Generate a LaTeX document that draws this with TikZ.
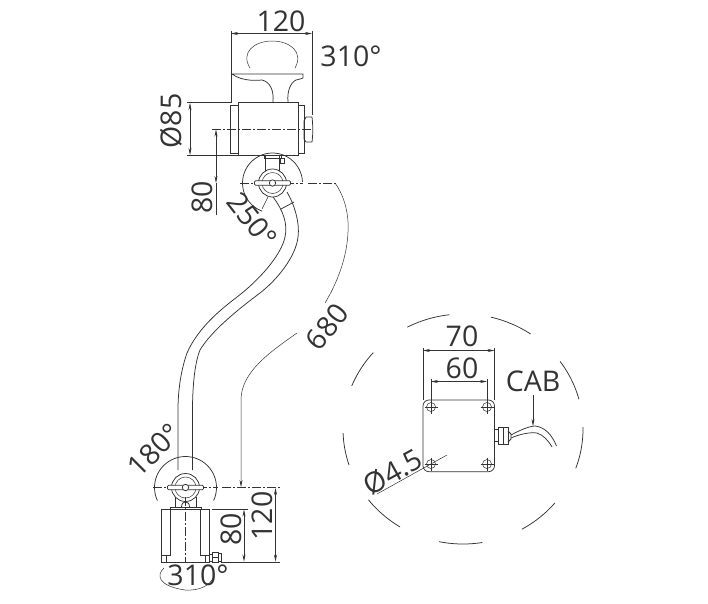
\documentclass[tikz,border=0pt]{standalone}
\usepackage{fontspec}
\setmainfont{Open Sans}
\usetikzlibrary{arrows.meta}
\definecolor{ink}{HTML}{333333}
\tikzset{
 x=1pt,y=-1pt,
 part/.style={draw=ink,line width=0.75pt},
 thin part/.style={draw=ink,line width=0.5pt},
 dim/.style={draw=ink,line width=0.5pt},
 dimboth/.style={dim,{Stealth[length=7pt,width=3pt]}-{Stealth[length=7pt,width=3pt]}},
 dimend/.style={dim,-{Stealth[length=7pt,width=3pt]}},
 centre/.style={draw=ink,line width=0.5pt,dash pattern=on 9pt off 2pt on 2pt off 2pt},
 lab/.style={text=ink,font=\fontsize{28.5}{28.5}\selectfont,inner sep=0pt},
}
\newcommand{\hubdraw}[2]{%
 \draw[part,fill=white] (#1,#2) circle[radius=14];
 \draw[thin part] (#1,#2) circle[radius=10.5];
 \draw[part,fill=white,rounded corners=1pt] ({#1-18},{#2-2.2}) rectangle ({#1+18},{#2+2.2});
 \draw[part,fill=white] (#1,#2) circle[radius=3.2];
}
\begin{document}
\begin{tikzpicture}
\useasboundingbox (0,0) rectangle (708,603);
\fill[white] (0,0) rectangle (708,603);
% --- top unit
\draw[part] (273,102) .. controls (274,90) and (270,82) .. (262,80) .. controls (252,81) and (240,80) .. (232,74) -- (303,74) -- (303,78) .. controls (302,79) and (299,79) .. (296,80) .. controls (290,83) and (287,92) .. (288,102);
\draw[part] (230,105.5) rectangle (238,153.5);
\draw[part] (238,102.5) rectangle (298,155);
\draw[part] (298,105.5) rectangle (304,153.5);
\draw[part] (304,121) -- (306,117) -- (312,117) .. controls (313,125) and (313,135) .. (312,142) -- (306,142) -- (304,139) -- cycle;
\draw[centre] (212,129) -- (311,129);
% rotation mark top
\draw[thin part] (250,68) .. controls (240,52) and (255,41) .. (272,41) .. controls (290,41) and (304,52) .. (295,68);
% dims top
\draw[dim] (231,31) -- (231,102);
\draw[dim] (312,31) -- (312,115);
\draw[dimboth] (231,33.5) -- (312,33.5);
\node[lab] (t120) at (281,21) {120};
\node[lab] (t310a) at (351,56) {310°};
\draw[dim] (187,102.5) -- (232,102.5);
\draw[dim] (187,155.5) -- (238,155.5);
\draw[dimboth] (190,103) -- (190,155);
\node[lab,rotate=90] (t85) at (171,121) {Ø85};
\draw[dimboth] (216,129.5) -- (216,183);
\draw[dim] (216,183) -- (216,215);
\node[lab,rotate=90] (t80a) at (202,197) {80};
% arm
\draw[part] (273,197) .. controls (283,210) and (288,224) .. (285,237) .. controls (281,256) and (258,281) .. (237,297) .. controls (220,310) and (198,328) .. (187,353) .. controls (181,370) and (178,390) .. (178,410) -- (178,470);
\draw[part] (287,192) .. controls (294,204) and (300,222) .. (298,237) .. controls (296,256) and (278,279) .. (260,293) .. controls (240,308) and (212,330) .. (200,350) .. controls (195,362) and (192.5,385) .. (192.5,410) -- (192.5,470);
\draw[part] (281,209) -- (294,202);
% top hub
\draw[part] (265,156) -- (265,172);
\draw[part] (279.5,156) -- (279.5,172);
\draw[part] (264,155) rectangle (281,158);
\draw[thin part] (280,158) rectangle (284,163);
\draw[part] plot[domain=-2:-250,samples=40,variable=\a] ({272.5+30*cos(\a+0)},{183+30*sin(\a+0)});
\draw[centre] (240,183) -- (303,183);
\draw[centre] (308,183) -- (336,183);
\hubdraw{272.5}{183}
\draw[dim] (262,209) -- (268,197);
% 680 dim
\draw[dim] (335,183) .. controls (345,197) and (349,215) .. (348,232) .. controls (347,258) and (337,283) .. (325,303);
\draw[dimend] (297,333) .. controls (270,352) and (241,372) .. (241,400) -- (241,487);
\node[lab,rotate=52] (t680) at (327,327) {680};
\node[lab,rotate=-52] (t250) at (252,220) {250°};
% lower hub
\draw[part] plot[domain=-25:205,samples=40,variable=\a] ({185.5+31*cos(\a)},{487.5-31*sin(\a)});
\draw[part] (175,497) -- (175,508);
\draw[part] (196.5,497) -- (196.5,508);
\draw[part,fill=white] (170,507) rectangle (201,509.5);
\draw[part] (181.5,507) .. controls (181.5,500) and (189.5,500) .. (189.5,507);
\draw[centre] (153,487.5) -- (218,487.5);
\draw[centre] (222,487.5) -- (280,487.5);
\hubdraw{185.5}{487.5}
\draw[part] (161.5,509) rectangle (209,562);
\draw[part] (170,509) -- (170,555.5) -- (161.5,555.5);
\draw[part] (200,509) -- (200,555.5) -- (209,555.5);
\draw[thin part] (166,555) -- (166,562);
\draw[thin part] (205,555) -- (205,562);
\draw[centre] (185.5,497) -- (185.5,562);
\draw[part] (209,554) rectangle (212,561);
\draw[part] (212,552.5) rectangle (218,562);
\draw[part] (218,553.5) rectangle (221,561);
\draw[thin part] (212,557) -- (218,557);
\draw[dim] (212,509) -- (248,509);
\draw[dim] (221,562) -- (280,562);
\draw[dimboth] (244,509.5) -- (244,561.5);
\draw[dimboth] (275.5,488) -- (275.5,561.5);
\node[lab,rotate=90] (t80b) at (231,529) {80};
\node[lab,rotate=90] (t120b) at (262,516) {120};
\node[lab,rotate=45] (t180) at (154,450) {180°};
% rotation mark bottom
\draw[thin part] (164,568) .. controls (156,575) and (158,586) .. (185,590) .. controls (200,591) and (210,585) .. (213,578);
\node[lab] (t310b) at (198,575) {310°};
% --- detail
\foreach \a/\b in {117.7/96.5,76.5/55.7,36/15,1/-20,-40/-60.6,-80.7/-101.5,-121.7/-142,-161.7/-178,158/138.4}{
 \draw[part] plot[domain=\a:\b,samples=14,variable=\t] ({463+120*cos(\t)},{429-115*sin(\t)});
}
\draw[part,rounded corners=6pt] (423,400) rectangle (494.5,471.7);
\foreach \x/\y in {431/407,487/407,431/464,487/464}{
 \draw[thin part] (\x,\y) circle[radius=4.5];
 \draw[thin part] ({\x-6.5},\y) -- ({\x+6.5},\y);
 \draw[thin part] (\x,{\y-6.5}) -- (\x,{\y+6.5});
}
\draw[dim] (423,348) -- (423,400);
\draw[dim] (494.5,348) -- (494.5,400);
\draw[dimboth] (423,350.5) -- (494.5,350.5);
\draw[dim] (431,379) -- (431,401);
\draw[dim] (487,379) -- (487,401);
\draw[dimboth] (431,381.5) -- (487,381.5);
\node[lab] (t70) at (462,336) {70};
\node[lab] (t60) at (462,368) {60};
\node[lab] (tcab) at (533,381) {CAB};
\coordinate (cabtip) at (533,426);
\draw[dimend] (tcab.south) ++(0,3) -- (cabtip);
\draw[part] (494.5,429) rectangle (498.5,441);
\draw[part] (498.5,427.5) rectangle (508,444);
\draw[thin part] (503,427.5) -- (503,444);
\draw[part] (508,431) -- (511,434) -- (511,439) -- (508,442);
\draw[part] (511,435) .. controls (520,430) and (530,426) .. (535,426) .. controls (545,427) and (552,435) .. (556.5,446);
\draw[part] (511,438) .. controls (520,434) and (530,432) .. (537,433) .. controls (543,435) and (548,440) .. (552,447);
\coordinate (lead) at (447,455);
\coordinate (leadb) at (377,494);
\draw[dim] (leadb) -- (lead);
\node[lab,rotate=29] (t45) at (393,472) {Ø4.5};
\end{tikzpicture}
\end{document}
